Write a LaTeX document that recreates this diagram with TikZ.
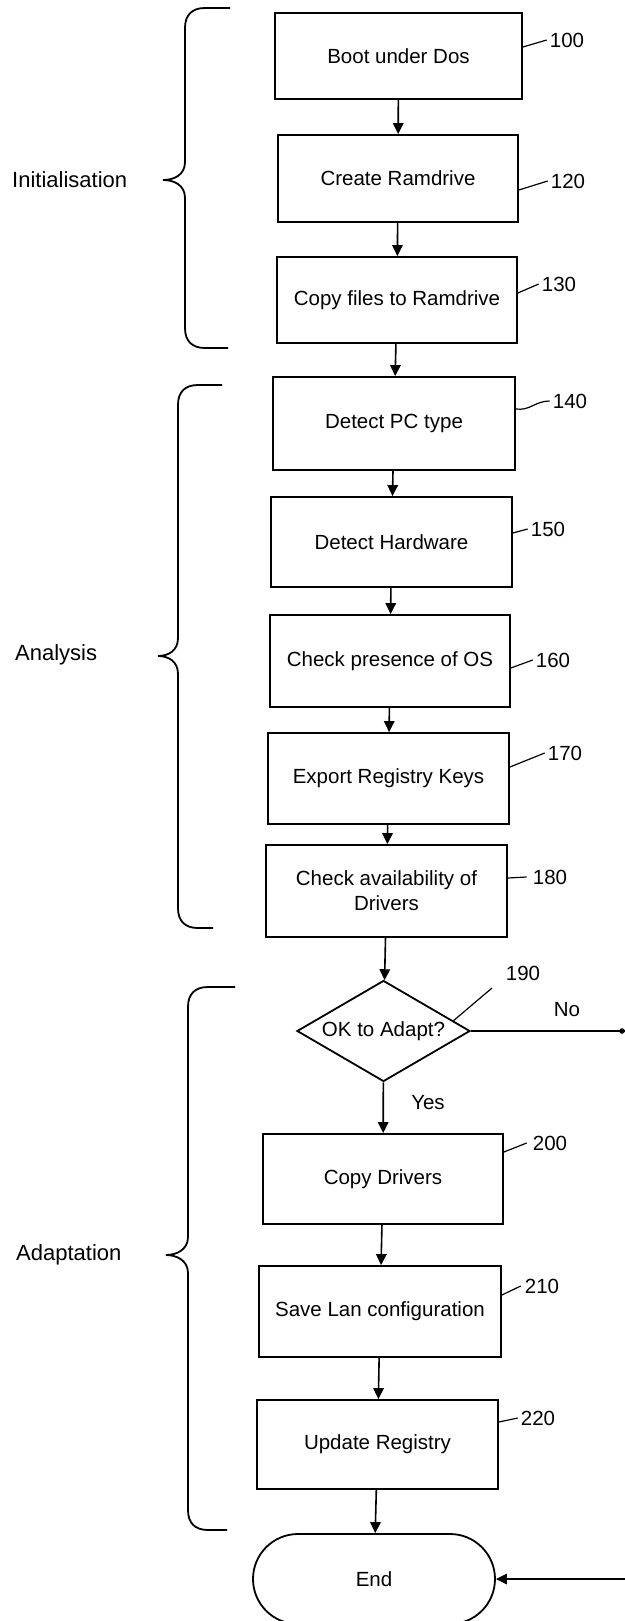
\documentclass[tikz,border=0pt]{standalone}
\usepackage{fontspec}
\setmainfont{Liberation Sans}
\usetikzlibrary{arrows.meta,shapes.geometric,calc}
\begin{document}
\begin{tikzpicture}[x=1pt,y=-1pt,
  box/.style={draw,line width=1.8pt,inner sep=2pt,align=center,font=\fontsize{20.5}{25}\selectfont},
  numlab/.style={inner sep=1pt,font=\fontsize{20.5}{24}\selectfont},
  sidelab/.style={inner sep=0pt,anchor=west,font=\fontsize{22}{26}\selectfont},
  arr/.style={line width=1.6pt,-{Triangle[length=11pt,width=10.5pt]}},
  lead/.style={line width=1.2pt},
  brace/.style={line width=1.8pt}
]
\useasboundingbox[fill=white] (0,0) rectangle (624,1621);

% process boxes
\node[box,minimum width=247pt,minimum height=86pt] (b100) at (398.5,56) {Boot under Dos};
\node[box,minimum width=240pt,minimum height=87pt] (b120) at (398,178.5) {Create Ramdrive};
\node[box,minimum width=240pt,minimum height=86pt] (b130) at (397,300) {Copy files to Ramdrive};
\node[box,minimum width=242pt,minimum height=93pt] (b140) at (394,423.5) {Detect PC type};
\node[box,minimum width=241pt,minimum height=90pt] (b150) at (391.5,542) {Detect Hardware};
\node[box,minimum width=240pt,minimum height=92pt] (b160) at (390,661) {Check presence of OS};
\node[box,minimum width=241pt,minimum height=91pt] (b170) at (388.5,778.5) {Export Registry Keys};
\node[box,minimum width=241pt,minimum height=92pt] (b180) at (386.5,891) {Check availability of\\Drivers};
\node[draw,diamond,line width=1.8pt,aspect=1.71,inner sep=1pt,minimum width=173pt,minimum height=101pt,font=\fontsize{20.5}{24}\selectfont] (dia) at (383.5,1031) {OK to Adapt?};
\node[box,minimum width=240pt,minimum height=90pt] (b200) at (383,1179) {Copy Drivers};
\node[box,minimum width=242pt,minimum height=91pt] (b210) at (380,1311.5) {Save Lan configuration};
\node[box,minimum width=241pt,minimum height=89pt] (b220) at (377.5,1444.5) {Update Registry};
\node[box,rounded corners=45pt,minimum width=242pt,minimum height=90pt] (endn) at (374,1579) {End};

% connectors
\draw[arr] (b100) -- (b120);
\draw[arr] (b120) -- (b130);
\draw[arr] (b130) -- (b140);
\draw[arr] (b140) -- (b150);
\draw[arr] (b150) -- (b160);
\draw[arr] (b160) -- (b170);
\draw[arr] (b170) -- (b180);
\draw[arr] (b180) -- (dia);
\draw[arr] (dia) -- (b200);
\draw[arr] (b200) -- (b210);
\draw[arr] (b210) -- (b220);
\draw[arr] (b220) -- (endn);
\coordinate (loopA) at (634,1031);
\draw[arr] (dia.east) -- (loopA) |- (endn.east);
\fill (622,1031) circle (2.8pt);

\node[numlab] (yes) at (428,1103) {Yes};
\node[numlab] (no) at (567,1010) {No};

% reference numerals
\node[numlab] (l100) at (567,40) {100};
\node[numlab] (l120) at (568,181) {120};
\node[numlab] (l130) at (559,284) {130};
\node[numlab] (l140) at (570,401) {140};
\node[numlab] (l150) at (548,529) {150};
\node[numlab] (l160) at (553,660) {160};
\node[numlab] (l170) at (565,753) {170};
\node[numlab] (l180) at (550,877) {180};
\node[numlab] (l190) at (523,973) {190};
\node[numlab] (l200) at (550,1143) {200};
\node[numlab] (l210) at (542,1286) {210};
\node[numlab] (l220) at (538,1418) {220};

\draw[lead] (b100.east |- 0,47) -- ([xshift=-2pt]l100.west);
\draw[lead] (b120.east |- 0,190) -- ([xshift=-2pt]l120.west);
\draw[lead] (b130.east |- 0,293) -- ([xshift=-2pt]l130.west);
\draw[lead] (b140.east |- 0,409) .. controls (530,411) and (535,401) .. ([xshift=-2pt]l140.west);
\draw[lead] (b150.east |- 0,533) -- ([xshift=-2pt]l150.west);
\draw[lead] (b160.east |- 0,668) -- ([xshift=-2pt]l160.west);
\draw[lead] (b170.east |- 0,767) -- ([xshift=-2pt]l170.west);
\draw[lead] (b180.east |- 0,878) -- ([xshift=-5pt]l180.west);
\coordinate (c190) at (492,988);
\draw[lead] ($(dia.north)!0.8!(dia.east)$) -- (c190);
\draw[lead] (b200.east |- 0,1152) -- ([xshift=-5pt]l200.west);
\draw[lead] (b210.east |- 0,1295) -- ([xshift=-3pt]l210.west);
\draw[lead] (b220.east |- 0,1422) -- ([xshift=-2pt]l220.west);

% phase braces
\node[sidelab] (sInit) at (12,180) {Initialisation};
\node[sidelab] (sAna) at (15,655) {Analysis};
\node[sidelab] (sAda) at (16,1255) {Adaptation};

\draw[brace] (230,8) -- (205,8) .. controls (192,8) and (185,15) .. (185,28)
  -- (185,162) .. controls (185,175) and (174,180) .. (163,180)
  .. controls (174,180) and (185,185) .. (185,198)
  -- (185,328) .. controls (185,341) and (192,348) .. (205,348) -- (228,348);
\draw[brace] (222,385) -- (198,385) .. controls (185,385) and (178,392) .. (178,405)
  -- (178,638) .. controls (178,651) and (168,656) .. (158,656)
  .. controls (168,656) and (178,661) .. (178,674)
  -- (178,908) .. controls (178,921) and (185,928) .. (198,928) -- (213,928);
\draw[brace] (235,987) -- (208,987) .. controls (195,987) and (188,994) .. (188,1007)
  -- (188,1237) .. controls (188,1250) and (176,1255) .. (166,1255)
  .. controls (176,1255) and (188,1260) .. (188,1273)
  -- (188,1510) .. controls (188,1523) and (195,1530) .. (208,1530) -- (227,1530);
\end{tikzpicture}
\end{document}
